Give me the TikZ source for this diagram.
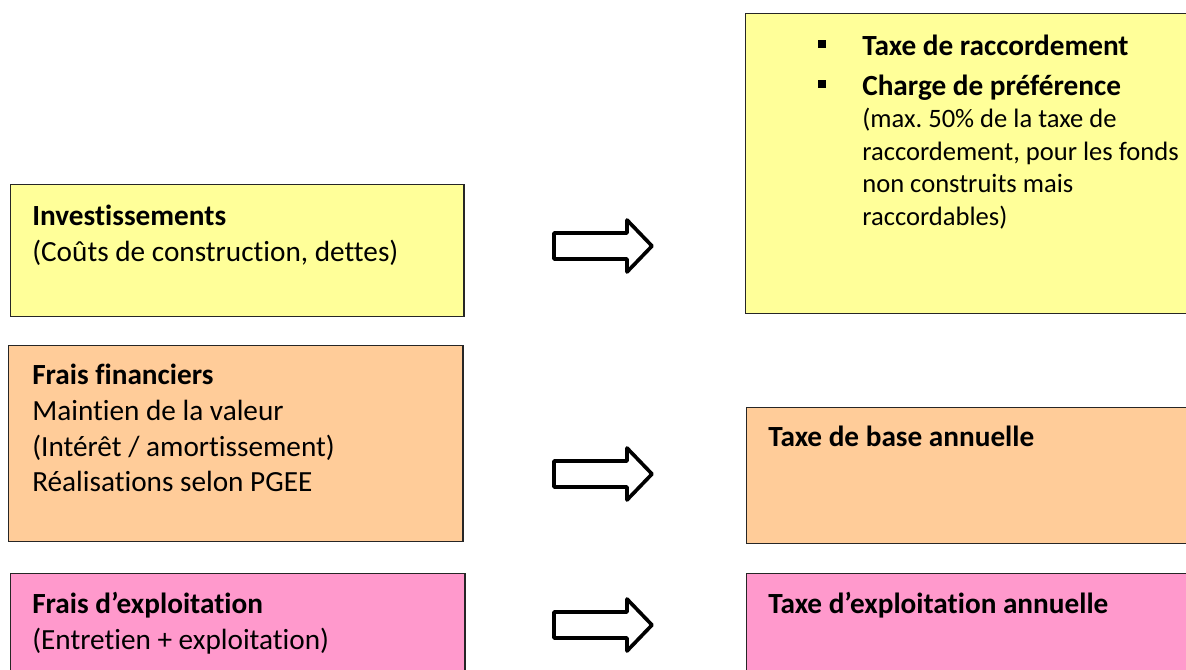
\documentclass[tikz,border=0pt]{standalone}
\usepackage{fontspec}
\setmainfont{Carlito}[Ligatures=CommonOff]
\usetikzlibrary{positioning}
\definecolor{investcol}{HTML}{FFFF99}
\definecolor{fincol}{HTML}{FFCC99}
\definecolor{expcol}{HTML}{FF99CC}

\begin{document}
\begin{tikzpicture}[x=0.025cm, y=-0.025cm,
  box/.style={draw=black!85, line width=1pt, anchor=north west, inner sep=0pt},
  txt/.style={align=left, inner sep=0pt, font=\fontsize{20.8}{25.4}\selectfont},
  blockarrow/.style={draw=black, line width=2.6pt, fill=white, line join=round}]
\useasboundingbox (0,0) rectangle (1186,670);
\clip (0,0) rectangle (1186,670);

% left column: costs
\node[box, fill=investcol, minimum width=11.325cm, minimum height=3.3cm] (inv) at (10,184) {};
\node[box, fill=fincol, minimum width=11.35cm, minimum height=4.9cm] (fin) at (8,345) {};
\node[box, fill=expcol, minimum width=11.35cm, minimum height=4cm] (exp) at (10,573) {};

\node[txt, below right=0.52cm and 0.55cm of inv.north west] (invtxt)
  {\textbf{Investissements}\\(Coûts de construction, dettes)};
\node[txt, below right=0.47cm and 0.6cm of fin.north west] (fintxt)
  {\textbf{Frais financiers}\\Maintien de la valeur\\(Intérêt / amortissement)\\Réalisations selon PGEE};
\node[txt, below right=0.47cm and 0.55cm of exp.north west] (exptxt)
  {\textbf{Frais d’exploitation}\\(Entretien + exploitation)};

% right column: taxes
\node[box, fill=investcol, minimum width=11.5cm, minimum height=7.5cm] (racc) at (745,13) {};
\node[box, fill=fincol, minimum width=11.5cm, minimum height=3.4cm] (base) at (746,407) {};
\node[box, fill=expcol, minimum width=11.5cm, minimum height=4cm] (taxexp) at (746,573) {};

\node[txt, font=\fontsize{18.9}{23.2}\selectfont, below right=0.54cm and 2.925cm of racc.north west] (racctxt)
  {\llap{\raisebox{5pt}{\rule{5.7pt}{5.7pt}}\hspace{26pt}}{\fontsize{20.8}{23.2}\selectfont\bfseries Taxe de raccordement}\\[5pt]
   \llap{\raisebox{5pt}{\rule{5.7pt}{5.7pt}}\hspace{26pt}}{\fontsize{20.8}{23.2}\selectfont\bfseries Charge de préférence}\\
   (max.\ 50\% de la taxe de\\raccordement, pour les fonds\\non construits mais\\raccordables)};
\node[txt, below right=0.46cm and 0.55cm of base.north west] (basetxt)
  {\textbf{Taxe de base annuelle}};
\node[txt, below right=0.47cm and 0.55cm of taxexp.north west] (taxexptxt)
  {\textbf{Taxe d’exploitation annuelle}};

% block arrows
\foreach \yc in {246,474,625}
  \draw[blockarrow] (554,\yc-13) -- (627,\yc-13) -- (627,\yc-26) -- (652,\yc)
    -- (627,\yc+26) -- (627,\yc+13) -- (554,\yc+13) -- cycle;
\end{tikzpicture}
\end{document}
